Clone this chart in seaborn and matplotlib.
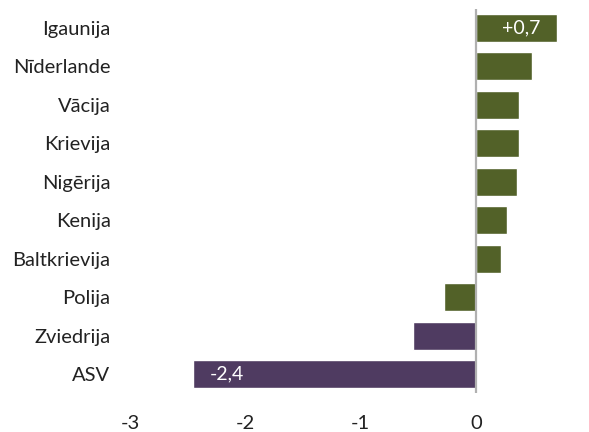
import matplotlib
matplotlib.use("Agg")
import matplotlib.pyplot as plt
import seaborn as sns
import pandas as pd

# Dati (nolasīti no attēla)
countries = ['Igaunija', 'Nīderlande', 'Vācija', 'Krievija', 'Nigērija',
             'Kenija', 'Baltkrievija', 'Polija', 'Zviedrija', 'ASV']
values = [0.70, 0.49, 0.37, 0.37, 0.36, 0.27, 0.22, -0.28, -0.55, -2.45]
bar_colors = ['#526128'] * 8 + ['#4f3b61'] * 2
value_labels = {'Igaunija': '+0,7', 'ASV': '-2,4'}
xticks = [-3, -2, -1, 0]

sns.set_style("white")
plt.rcParams['font.family'] = ['Lato', 'DejaVu Sans']

df = pd.DataFrame({'country': countries, 'value': values})

fig = plt.figure(figsize=(5.89, 4.32), dpi=100)
ax = fig.add_axes([130 / 589, 38.8 / 432, 459 / 589, 384.4 / 432])

sns.barplot(data=df, x='value', y='country', hue='country', palette=bar_colors,
            legend=False, width=0.73, saturation=1, orient='h', ax=ax)

ax.axvline(0, color='#b0b0b0', lw=1.6, zorder=3)
ax.set_xlim(-3, 0.98)
ax.set_ylim(9.5, -0.5)
ax.set_xticks(xticks)
ax.set_xticklabels([str(t) for t in xticks], fontsize=14.5, color='#222222')
ax.tick_params(axis='x', length=0, pad=16)
ax.tick_params(axis='y', length=0, pad=14, labelsize=14.5, labelcolor='#222222')
ax.set_xlabel('')
ax.set_ylabel('')
sns.despine(ax=ax, left=True, bottom=True)

for i, c in enumerate(countries):
    if c in value_labels:
        v = values[i]
        if v > 0:
            ax.text(v - 0.14, i, value_labels[c], color='white', fontsize=14,
                    ha='right', va='center')
        else:
            ax.text(v + 0.14, i, value_labels[c], color='white', fontsize=14,
                    ha='left', va='center')

fig.savefig('out.png', dpi=100)
